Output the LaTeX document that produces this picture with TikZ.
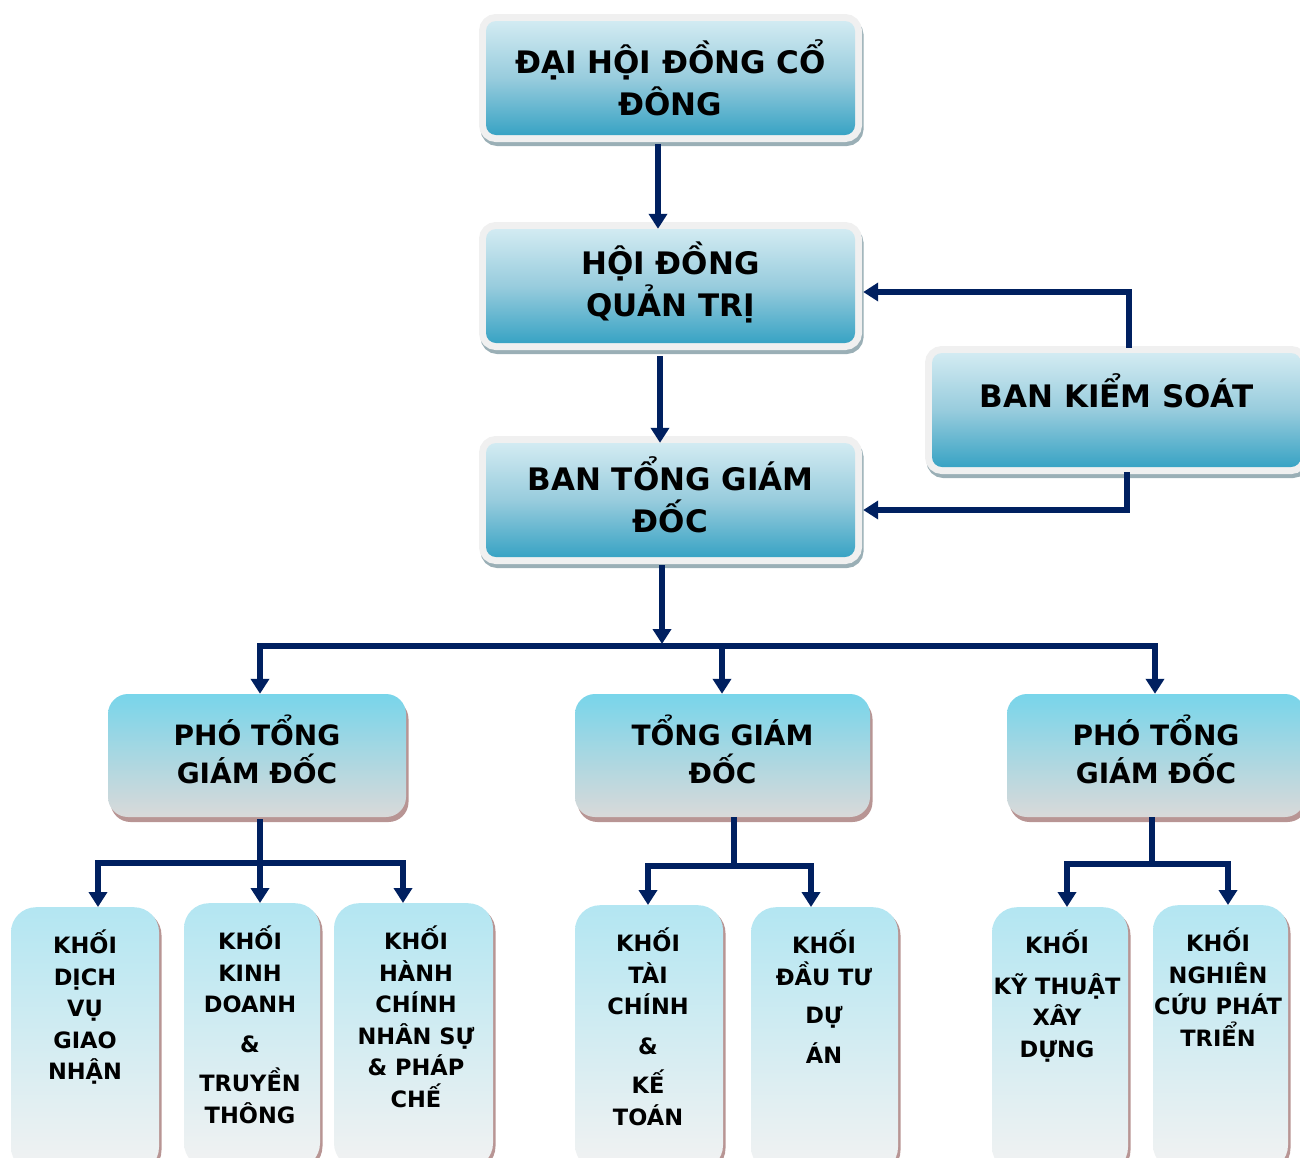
\documentclass[tikz,border=0pt]{standalone}
\usepackage{fontspec}
\setmainfont{DejaVu Sans}
\usetikzlibrary{arrows.meta}
\definecolor{navy}{HTML}{002060}
\definecolor{upT}{HTML}{D2EBF2}
\definecolor{upM}{HTML}{98CCDD}
\definecolor{upB}{HTML}{38A3C4}
\definecolor{frG}{HTML}{F0F0F0}
\definecolor{frSh}{HTML}{9AAFB6}
\definecolor{midT}{HTML}{78D5EA}
\definecolor{midB}{HTML}{D9D9D9}
\definecolor{lowT}{HTML}{B3E6F2}
\definecolor{lowB}{HTML}{F2F2F2}
\definecolor{boxSh}{HTML}{B89594}
\newcommand\fUp{\fontsize{31}{42}\selectfont\bfseries}
\newcommand\fMid{\fontsize{28}{38}\selectfont\bfseries}
\newcommand\fLow{\fontsize{22.5}{31.5}\selectfont\bfseries}
\tikzset{
  upbox/.style={rounded corners=10pt, minimum width=369pt, minimum height=114pt,
    inner sep=0pt, align=center, font=\fUp,
    top color=upT, bottom color=upB, middle color=upM,
    preaction={draw=frSh, line width=14pt, transform canvas={shift={(1.5pt,-4pt)}}},
    preaction={draw=frG, line width=14pt}},
  midbox/.style={rounded corners=20pt, minimum height=123pt, inner sep=0pt,
    align=center, font=\fMid, top color=midT, bottom color=midB,
    preaction={fill=boxSh, transform canvas={shift={(2.5pt,-5pt)}}}},
  lowbox/.style={rounded corners=25pt, minimum height=265pt, anchor=north, inner sep=0pt,
    top color=lowT, bottom color=lowB,
    preaction={fill=boxSh, transform canvas={shift={(2.5pt,-3pt)}}}},
  lowtxt/.style={anchor=north, inner sep=0pt, align=center, font=\fLow, yshift=-23pt},
  conn/.style={draw=navy, line width=5.5pt, line cap=rect, line join=miter},
  arr/.style={conn, -{Triangle[width=18pt,length=15pt]}}
}
\begin{document}
\begin{tikzpicture}[x=1pt,y=-1pt]
\useasboundingbox (0,0) rectangle (1300,1157);
\clip (0,0) rectangle (1300,1157);
% upper level
\node[upbox] (dhcd) at (670.5,78) {ĐẠI HỘI ĐỒNG CỔ\\ĐÔNG};
\node[upbox] (hdqt) at (670.5,286) {HỘI ĐỒNG\\QUẢN TRỊ\\[-28pt]\mbox{}};
\node[upbox] (btgd) at (670.5,500) {BAN TỔNG GIÁM\\ĐỐC\\[-32pt]\mbox{}};
\node[upbox] (bks) at (1116.5,410) {BAN KIỂM SOÁT\\[-4pt]\mbox{}};
% middle level
\node[midbox, minimum width=298pt] (pL) at (257,755.5) {PHÓ TỔNG\\GIÁM ĐỐC\\[-26pt]\mbox{}};
\node[midbox, minimum width=295pt] (pM) at (722.5,755.5) {TỔNG GIÁM\\ĐỐC\\[-26pt]\mbox{}};
\node[midbox, minimum width=298pt] (pR) at (1156,755.5) {PHÓ TỔNG\\GIÁM ĐỐC\\[-26pt]\mbox{}};
% lower level boxes
\node[lowbox, minimum width=148pt] (k1) at (85,907) {};
\node[lowbox, minimum width=136pt] (k2) at (252,903) {};
\node[lowbox, minimum width=159pt] (k3) at (413.5,903) {};
\node[lowbox, minimum width=148pt] (k4) at (649,905) {};
\node[lowbox, minimum width=147pt] (k5) at (824.5,907) {};
\node[lowbox, minimum width=136pt] (k6) at (1060,907) {};
\node[lowbox, minimum width=135pt] (k7) at (1220.5,905) {};
\node[lowtxt] (t1) at (85,907) {KHỐI\\DỊCH\\VỤ\\GIAO\\NHẬN};
\node[lowtxt] (t2) at (250,903) {KHỐI\\KINH\\DOANH\\[8pt]\&\\[8pt]TRUYỀN\\THÔNG};
\node[lowtxt] (t3) at (416,903) {KHỐI\\HÀNH\\CHÍNH\\NHÂN SỰ\\\& PHÁP\\CHẾ};
\node[lowtxt] (t4) at (648,905) {KHỐI\\TÀI\\CHÍNH\\[8pt]\&\\[8pt]KẾ\\TOÁN};
\node[lowtxt] (t5) at (824,907) {KHỐI\\ĐẦU TƯ\\[7pt]DỰ\\[8pt]ÁN};
\node[lowtxt] (t6) at (1057,907) {KHỐI\\[9pt]KỸ THUẬT\\XÂY\\DỰNG};
\node[lowtxt] (t7) at (1218,905) {KHỐI\\NGHIÊN\\CỨU PHÁT\\TRIỂN};
% upper connectors
\draw[arr] ([xshift=-12.5pt,yshift=-12pt]dhcd.south) -- ([xshift=-12.5pt]hdqt.north);
\draw[arr] ([xshift=-10.5pt,yshift=-16pt]hdqt.south) -- ([xshift=-10.5pt]btgd.north);
\draw[arr] ([xshift=12.5pt,yshift=8pt]bks.north) |- ([xshift=8pt,yshift=-6pt]hdqt.east);
\draw[arr] ([xshift=10.5pt,yshift=-8pt]bks.south) |- ([xshift=8pt,yshift=-10pt]btgd.east);
% top bar
\coordinate (jT) at (662,644);
\coordinate (bL) at (260,646);
\coordinate (bM) at (722,646);
\coordinate (bR) at (1155,646);
\draw[arr] ([xshift=-8.5pt,yshift=-11pt]btgd.south) -- (jT);
\draw[conn] (bL) -- (bR);
\draw[arr] (bL) -- (bL |- pL.north);
\draw[arr] (bM) -- (bM |- pM.north);
\draw[arr] (bR) -- (bR |- pR.north);
% left group
\coordinate (lA) at (98,863);
\coordinate (lC) at (403,863);
\draw[conn] (lA) -- (lC);
\draw[arr] ([xshift=3pt,yshift=-5pt]pL.south) -- ([xshift=3pt]pL.south |- k2.north);
\draw[arr] (lA) -- (lA |- k1.north);
\draw[arr] (lC) -- (lC |- k3.north);
% middle group
\coordinate (mA) at (648,866);
\coordinate (mB) at (811,866);
\draw[conn] ([xshift=11.5pt,yshift=-3pt]pM.south) -- ([xshift=11.5pt]pM.south |- mA);
\draw[conn] (mA) -- (mB);
\draw[arr] (mA) -- (mA |- k4.north);
\draw[arr] (mB) -- (mB |- k5.north);
% right group
\coordinate (rA) at (1067,864);
\coordinate (rB) at (1228,864);
\draw[conn] ([xshift=-4pt,yshift=-3pt]pR.south) -- ([xshift=-4pt]pR.south |- rA);
\draw[conn] (rA) -- (rB);
\draw[arr] (rA) -- (rA |- k6.north);
\draw[arr] (rB) -- (rB |- k7.north);
\end{tikzpicture}
\end{document}
